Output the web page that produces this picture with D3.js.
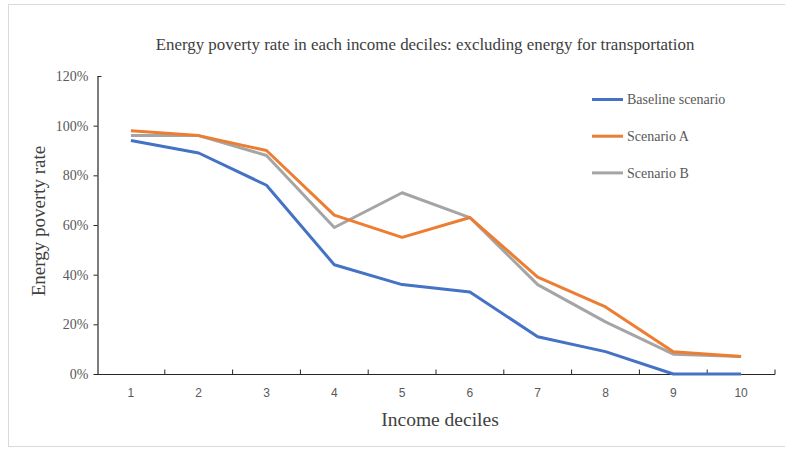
<!DOCTYPE html>
<html>
<head>
<meta charset="utf-8">
<script src="https://cdn.jsdelivr.net/npm/d3@7"></script>
<style>
html,body{margin:0;padding:0;background:#fff;}
svg{display:block;}
</style>
</head>
<body>
<svg id="chart" width="785" height="451"></svg>
<script>
const categories = ["1","2","3","4","5","6","7","8","9","10"];
const baseline = [0.94, 0.89, 0.76, 0.44, 0.36, 0.33, 0.15, 0.09, 0.00, 0.00];
const scenarioA = [0.98, 0.96, 0.90, 0.64, 0.55, 0.63, 0.39, 0.27, 0.09, 0.07];
const scenarioB = [0.96, 0.96, 0.88, 0.59, 0.73, 0.63, 0.36, 0.21, 0.08, 0.07];
const seriesNames = ["Baseline scenario", "Scenario A", "Scenario B"];
const seriesColors = ["#4472C4", "#ED7D31", "#A5A5A5"];
const yTicks = [0, 0.2, 0.4, 0.6, 0.8, 1.0, 1.2];

const svg = d3.select("#chart");
const serif = "'Liberation Serif','Times New Roman',serif";
const sans = "'Liberation Sans',Arial,sans-serif";

// frame
svg.append("rect").attr("x", 8.5).attr("y", 4.5).attr("width", 800).attr("height", 442)
  .attr("fill", "#fff").attr("stroke", "#d9d9d9").attr("stroke-width", 1);

const x = d3.scaleBand().domain(categories).range([97, 775]);
const y = d3.scaleLinear().domain([0, 1.2]).range([374, 76]);
const cx = c => x(c) + x.bandwidth() / 2;

// title
svg.append("text").attr("x", 425).attr("y", 50).attr("text-anchor", "middle")
  .attr("font-family", serif).attr("font-size", 16.9).attr("fill", "#404040")
  .text("Energy poverty rate in each income deciles: excluding energy for transportation");

// y axis
const yAxis = svg.append("g").attr("transform", "translate(97.5,0)")
  .call(d3.axisLeft(y).tickValues(yTicks).tickFormat(d3.format(".0%")).tickSize(4).tickSizeOuter(0));
yAxis.select(".domain").attr("stroke", "#262626").attr("stroke-width", 1.2);
yAxis.selectAll(".tick line").attr("stroke", "#262626");
yAxis.selectAll(".tick").filter(d => d === 1.2).select("line").attr("x2", 4);
yAxis.selectAll(".tick text").attr("font-family", serif).attr("font-size", 14).attr("fill", "#595959").attr("x", -9);

// x axis
const xAxis = svg.append("g").attr("transform", "translate(0,374.5)");
xAxis.append("line").attr("x1", 97).attr("x2", 775).attr("stroke", "#262626").attr("stroke-width", 1.2);
const bounds = categories.slice(1).map(c => x(c)).concat([775]);
xAxis.selectAll("line.tk").data(bounds).join("line").attr("class", "tk")
  .attr("x1", d => d).attr("x2", d => d).attr("y1", 0).attr("y2", -5)
  .attr("stroke", "#262626");
xAxis.selectAll("text").data(categories).join("text")
  .attr("x", d => cx(d)).attr("y", 22).attr("text-anchor", "middle")
  .attr("font-family", sans).attr("font-size", 12).attr("fill", "#595959").text(d => d);

// axis titles
svg.append("text").attr("transform", "translate(45,221) rotate(-90)").attr("text-anchor", "middle")
  .attr("font-family", serif).attr("font-size", 19).attr("fill", "#404040").text("Energy poverty rate");
svg.append("text").attr("x", 440).attr("y", 426).attr("text-anchor", "middle")
  .attr("font-family", serif).attr("font-size", 19.5).attr("fill", "#404040").text("Income deciles");

// lines
const seriesData = [baseline, scenarioA, scenarioB];
const line = d3.line().x((d, i) => cx(categories[i])).y(d => y(d));
[2, 1, 0].forEach(k => {
  svg.append("path").datum(seriesData[k]).attr("d", line)
    .attr("fill", "none").attr("stroke", seriesColors[k]).attr("stroke-width", 3)
    .attr("stroke-linejoin", "round");
});

// legend
const lg = svg.append("g");
seriesNames.forEach((n, i) => {
  const yy = 99.5 + i * 36.7;
  lg.append("line").attr("x1", 592).attr("x2", 623).attr("y1", yy).attr("y2", yy)
    .attr("stroke", seriesColors[i]).attr("stroke-width", 3);
  lg.append("text").attr("x", 627).attr("y", yy + 4.8).attr("font-family", serif)
    .attr("font-size", 14).attr("fill", "#595959").text(n);
});
</script>
</body>
</html>
